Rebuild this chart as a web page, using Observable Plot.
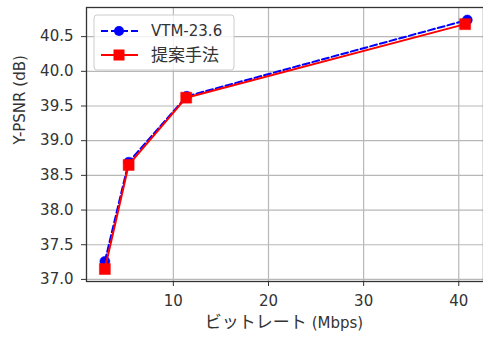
<!DOCTYPE html>
<html>
<head>
<meta charset="utf-8">
<script src="https://cdn.jsdelivr.net/npm/d3@7"></script>
<script src="https://cdn.jsdelivr.net/npm/@observablehq/plot@0.6"></script>
<style>
  html, body { margin: 0; padding: 0; background: #fff; }
  #chart { width: 483px; height: 338px; overflow: hidden; }
</style>
</head>
<body>
<div id="chart"></div>
<script>
// Rate–distortion points: bitrate (Mbps) vs. Y-PSNR (dB)
const vtmBitrate = [2.8, 5.3, 11.4, 40.9];
const vtmPsnr = [37.26, 38.69, 39.64, 40.74];
const propBitrate = [2.8, 5.3, 11.35, 40.67];
const propPsnr = [37.15, 38.65, 39.62, 40.68];

const seriesNames = ["VTM-23.6", "提案手法"];
const xTicks = [10, 20, 30, 40];
const yTicks = [37.0, 37.5, 38.0, 38.5, 39.0, 39.5, 40.0, 40.5];
const xLabelParts = ["ビットレート", " (Mbps)"];
const yLabel = "Y-PSNR (dB)";

const vtm = vtmBitrate.map((x, i) => ({x, y: vtmPsnr[i]}));
const prop = propBitrate.map((x, i) => ({x, y: propPsnr[i]}));

const font = "'DejaVu Sans', 'Noto Sans CJK JP', sans-serif";
const ink = "#333";
const blue = "#0000ff";
const red = "#ff0000";
const fs = 15;     // Latin text size
const fsJa = 17;   // Japanese glyphs render a little larger

const plot = Plot.plot({
  width: 483,
  height: 338,
  marginLeft: 86,
  marginRight: 0,
  marginTop: 7,
  marginBottom: 57,
  style: {fontFamily: font, fontSize: fs + "px", color: ink, background: "#fff"},
  x: {domain: [0.87, 42.6]},
  y: {domain: [36.97, 40.92]},
  marks: [
    Plot.gridX(xTicks, {stroke: "#b8b8b8", strokeOpacity: 1, strokeWidth: 1.2}),
    Plot.gridY(yTicks, {stroke: "#b8b8b8", strokeOpacity: 1, strokeWidth: 1.2}),
    Plot.frame({stroke: "#333", strokeWidth: 1.3}),
    Plot.axisX(xTicks, {tickSize: 5, tickPadding: 9, label: null, stroke: "#333", fill: ink, fontSize: fs}),
    Plot.axisY(yTicks, {tickSize: 5, tickPadding: 8, label: null, tickFormat: d3.format(".1f"), stroke: "#333", fill: ink, fontSize: fs}),
    Plot.text([yLabel], {frameAnchor: "left", dx: -66, rotate: -90, fontSize: fs, fill: ink}),
    Plot.line(vtm, {x: "x", y: "y", stroke: blue, strokeWidth: 2, strokeDasharray: "7,3"}),
    Plot.dot(vtm, {x: "x", y: "y", r: 5, fill: blue, stroke: blue, strokeWidth: 0.5}),
    Plot.line(prop, {x: "x", y: "y", stroke: red, strokeWidth: 2}),
    Plot.dot(prop, {x: "x", y: "y", symbol: "square", r: 6.2, fill: red, stroke: red, strokeWidth: 0.5})
  ]
});

const svg = d3.select(plot);

// x-axis title, mixing Japanese and Latin runs
const xt = svg.append("text").attr("x", 284).attr("y", 323).attr("dy", "0.35em")
  .attr("text-anchor", "middle").attr("font-family", font).attr("fill", ink);
xt.append("tspan").attr("font-size", fsJa).text(xLabelParts[0]);
xt.append("tspan").attr("font-size", fs).text(xLabelParts[1]);

// Legend in the upper-left corner of the axes
const lg = svg.append("g").attr("transform", "translate(94,15)");
lg.append("rect").attr("width", 140).attr("height", 55).attr("rx", 3)
  .attr("fill", "#fff").attr("fill-opacity", 0.8).attr("stroke", "#ccc");
const entries = [
  {name: seriesNames[0], color: blue, dash: "7,3", symbol: "circle", y: 16, size: fs},
  {name: seriesNames[1], color: red, dash: null, symbol: "square", y: 40, size: fsJa}
];
for (const e of entries) {
  lg.append("line").attr("x1", 7).attr("x2", 44).attr("y1", e.y).attr("y2", e.y)
    .attr("stroke", e.color).attr("stroke-width", 2).attr("stroke-dasharray", e.dash);
  if (e.symbol === "circle") {
    lg.append("circle").attr("cx", 25).attr("cy", e.y).attr("r", 5).attr("fill", e.color);
  } else {
    lg.append("rect").attr("x", 25 - 5.5).attr("y", e.y - 5.5).attr("width", 11).attr("height", 11).attr("fill", e.color);
  }
  lg.append("text").attr("x", 57).attr("y", e.y).attr("dy", "0.35em")
    .attr("text-anchor", "start")
    .attr("font-family", font).attr("font-size", e.size).attr("fill", ink).text(e.name);
}

document.getElementById("chart").appendChild(plot);
</script>
</body>
</html>
